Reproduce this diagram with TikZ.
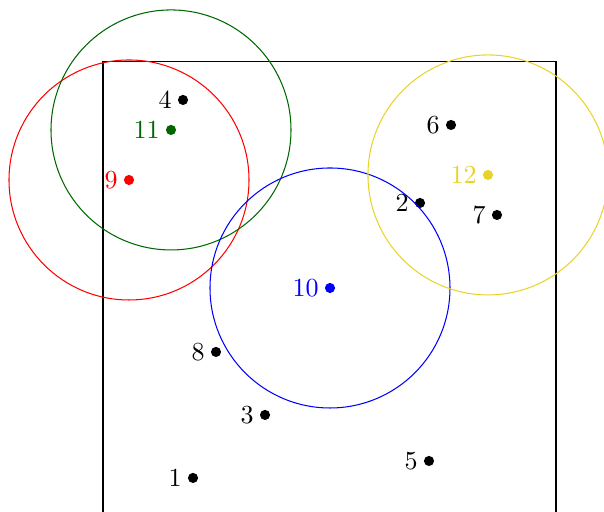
\documentclass[tikz,border=0pt]{standalone}
\usepackage{tikz}
\usetikzlibrary{positioning}
\usepackage{xcolor}
\definecolor{mgreen}{RGB}{0,102,0}
\definecolor{myellow}{RGB}{232,212,40}

\begin{document}
\begin{tikzpicture}[x=0.81cm, y=0.81cm,
  pt/.style={circle, fill=black, inner sep=0pt, minimum size=3.9pt},
  ring/.style={thin},
  label distance=-1.3pt
]
\useasboundingbox (0,0) rectangle (10.067,8.533);
\clip (0,0) rectangle (10.067,8.533);
\draw (1.717,-1) rectangle (9.267,7.5);
% data points
\node[pt, label=left:4] (p4) at (3.05,6.867) {};
\node[pt, label=left:6] (p6) at (7.517,6.45) {};
\node[pt, label=left:2] (p2) at (7.0,5.15) {};
\node[pt, label=left:7] (p7) at (8.283,4.95) {};
\node[pt, label=left:8] (p8) at (3.6,2.667) {};
\node[pt, label=left:3] (p3) at (4.417,1.617) {};
\node[pt, label=left:5] (p5) at (7.15,0.85) {};
\node[pt, label=left:1] (p1) at (3.217,0.567) {};
% centres
\node[pt, fill=red, label={[red]left:9}] (p9) at (2.15,5.533) {};
\node[pt, fill=mgreen, label={[mgreen]left:11}] (p11) at (2.85,6.367) {};
\node[pt, fill=blue, label={[blue]left:10}] (p10) at (5.5,3.733) {};
\node[pt, fill=myellow, label={[myellow]left:12}] (p12) at (8.133,5.617) {};
\draw[ring, red] (p9) circle (2);
\draw[ring, mgreen] (p11) circle (2);
\draw[ring, blue] (p10) circle (2);
\draw[ring, myellow] (p12) circle (2);
\end{tikzpicture}
\end{document}
